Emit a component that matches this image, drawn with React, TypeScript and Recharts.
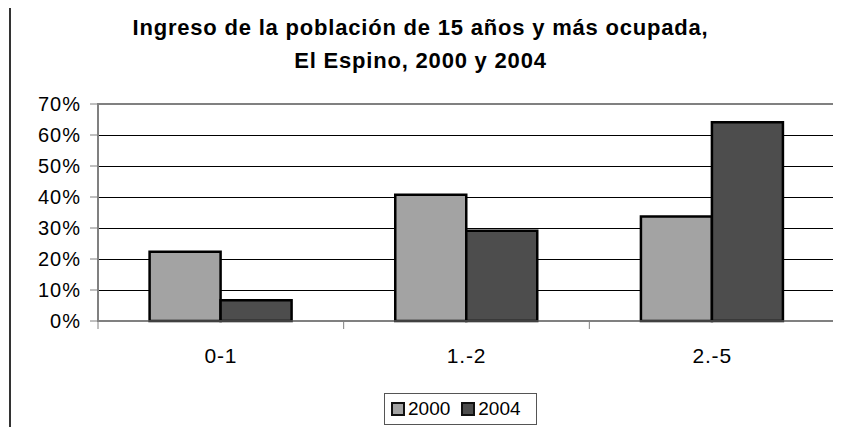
import React from "react";
import {
  BarChart,
  Bar,
  XAxis,
  YAxis,
  CartesianGrid,
  Legend,
  ReferenceArea,
} from "recharts";

// ingreso (en salarios mínimos) por tramo
const categories = ["0-1", "1.-2", "2.-5"];
const values2000 = [0.223, 0.407, 0.337];
const values2004 = [0.067, 0.291, 0.641];
const yTicks = [0, 0.1, 0.2, 0.3, 0.4, 0.5, 0.6, 0.7];

const FONT = '"Liberation Sans", Arial, sans-serif';
const TICK_SIZE = 8;

const data = categories.map((cat, i) => ({
  cat,
  y2000: values2000[i],
  y2004: values2004[i],
}));

// category labels centred, with the tick marks on the band edges (Excel style)
const CategoryTick = (props: any) => {
  const { x, y, payload, index, visibleTicksCount } = props;
  const off = payload.offset ?? 0;
  const axisY = y - TICK_SIZE;
  const isLast = index === visibleTicksCount - 1;
  return (
    <g>
      <line x1={x - off} x2={x - off} y1={axisY} y2={axisY + TICK_SIZE} stroke="#808080" />
      {isLast && (
        <line x1={x + off} x2={x + off} y1={axisY} y2={axisY + TICK_SIZE} stroke="#808080" />
      )}
      <text
        x={x}
        y={axisY + 42}
        textAnchor="middle"
        fontSize={21}
        letterSpacing={0.8}
        fill="#000"
        fontFamily={FONT}
      >
        {payload.value}
      </text>
    </g>
  );
};

const LegendBox = ({ payload }: any) => (
  <div
    style={{
      boxSizing: "border-box",
      width: 153,
      height: 32,
      border: "1px solid #555",
      background: "#fff",
      display: "flex",
      alignItems: "center",
      paddingLeft: 6,
      fontFamily: FONT,
      fontSize: 19,
      color: "#000",
    }}
  >
    {(payload || []).map((p: any) => (
      <div key={p.value} style={{ display: "flex", alignItems: "center", marginRight: 11 }}>
        <span
          style={{
            display: "inline-block",
            boxSizing: "border-box",
            width: 14,
            height: 14,
            border: "2px solid #111",
            background: p.color,
            marginRight: 3,
          }}
        />
        <span>{p.value}</span>
      </div>
    ))}
  </div>
);

export default function App() {
  return (
    <div
      style={{
        position: "relative",
        width: 841,
        height: 435,
        margin: -8,
        background: "#fff",
        overflow: "hidden",
        fontFamily: FONT,
      }}
    >
      {/* outer chart frame, only top/left visible in the crop */}
      <div
        style={{
          position: "absolute",
          left: 9,
          top: 6,
          width: 900,
          height: 500,
          borderLeft: "2px solid #333",
          borderTop: "2px solid #333",
        }}
      />
      <div
        style={{
          position: "absolute",
          left: 0,
          top: 11,
          width: 841,
          textAlign: "center",
          fontWeight: "bold",
          fontSize: 22,
          letterSpacing: 0.8,
          lineHeight: "33px",
          color: "#000",
        }}
      >
        Ingreso de la población de 15 años y más ocupada,
        <br />
        El Espino, 2000 y 2004
      </div>
      <div style={{ position: "absolute", left: 0, top: 0 }}>
        <BarChart
          width={841}
          height={435}
          data={data}
          margin={{ top: 104, right: 6, left: 10, bottom: 74 }}
          barCategoryGap="21%"
          barGap={0}
        >
          <CartesianGrid vertical={false} stroke="#000" strokeWidth={1} shapeRendering="crispEdges" />
          <ReferenceArea y1={0} y2={0.7} fill="none" stroke="#808080" strokeWidth={2} />
          <XAxis
            dataKey="cat"
            height={40}
            tickLine={false}
            tickSize={TICK_SIZE}
            tickMargin={0}
            axisLine={{ stroke: "#808080" }}
            tick={<CategoryTick />}
            interval={0}
          />
          <YAxis
            width={88}
            domain={[0, 0.7]}
            ticks={yTicks}
            tickFormatter={(v: number) => `${Math.round(v * 100)}%`}
            tick={{ fill: "#000", fontSize: 20, fontFamily: FONT, letterSpacing: 1 }}
            tickSize={TICK_SIZE}
            tickMargin={9}
            tickLine={{ stroke: "#808080" }}
            axisLine={{ stroke: "#808080" }}
          />
          <Legend
            verticalAlign="middle"
            layout="horizontal"
            content={<LegendBox />}
            wrapperStyle={{ left: 384, top: 393, width: 153, height: 32 }}
          />
          <Bar dataKey="y2000" name="2000" fill="#a3a3a3" stroke="#000" strokeWidth={2.5} isAnimationActive={false} />
          <Bar dataKey="y2004" name="2004" fill="#4d4d4d" stroke="#000" strokeWidth={2.5} isAnimationActive={false} />
        </BarChart>
      </div>
    </div>
  );
}
